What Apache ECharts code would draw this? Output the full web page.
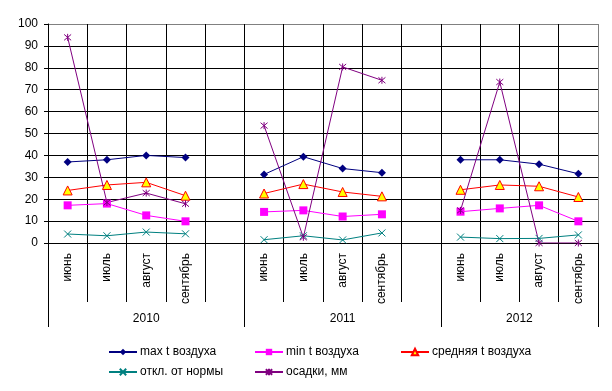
<!DOCTYPE html>
<html>
<head>
<meta charset="utf-8">
<script src="https://cdn.jsdelivr.net/npm/echarts@6/dist/echarts.min.js"></script>
<style>
html,body{margin:0;padding:0;background:#fff;}
#chart{width:612px;height:391px;}
</style>
</head>
<body>
<div id="chart"></div>
<script>
// ---- data ----
var months = ['июнь', 'июль', 'август', 'сентябрь'];
var years = ['2010', '2011', '2012'];
var seriesNames = ['max t воздуха', 'min t воздуха', 'средняя t воздуха', 'откл. от нормы', 'осадки, мм'];
var maxT   = [37, 38, 40, 39,   31.3, 39.4, 34, 32.1,   38, 38, 36, 31.6];
var minT   = [17.2, 18, 12.6, 9.9,   14.2, 14.9, 12.1, 13.1,   14.3, 15.8, 17.2, 9.9];
var avgT   = [24, 26.5, 27.7, 21.6,   22.6, 26.9, 23.3, 21.3,   24.3, 26.5, 25.9, 21];
var devT   = [4.1, 3.3, 5, 4.2,   1.5, 3.3, 1.4, 4.6,   2.7, 2, 2.1, 3.7];
var precip = [93.9, 18.5, 22.8, 17.9,   53.6, 2.6, 80.4, 74.3,   14.9, 73.5, 0, 0];
var yTicks = [0, 10, 20, 30, 40, 50, 60, 70, 80, 90, 100];

// ---- build categories with a blank slot between years ----
var categories = [];
var yearStart = [];
var yearCenter = [];
years.forEach(function (y, yi) {
  yearStart.push(categories.length);
  months.forEach(function (m) { categories.push(m); });
  var span = months.length + (yi < years.length - 1 ? 1 : 0);
  yearCenter.push(categories.length - months.length + span / 2);
  if (yi < years.length - 1) categories.push('');
});
var nCat = categories.length;
var yearTicks = yearStart.concat([nCat]);

function spread(arr) {
  var out = [];
  years.forEach(function (y, yi) {
    for (var i = 0; i < months.length; i++) out.push(arr[yi * months.length + i]);
    if (yi < years.length - 1) out.push(null);
  });
  return out;
}

var xMark = 'path://M0,0L10,10M10,0L0,10';
var starMark = 'path://M0,0L10,10M10,0L0,10M5,-1L5,11';

var splitColorsY = yTicks.map(function (v, i) { return i === yTicks.length - 1 ? '#808080' : '#000000'; });
var splitColorsX = [];
for (var i = 0; i <= nCat; i++) splitColorsX.push(i === nCat ? '#808080' : '#000000');

var chart = echarts.init(document.getElementById('chart'), null, {renderer: 'canvas'});
var font = 'Liberation Sans, Arial, sans-serif';

function legendAt(name, left, top) {
  return {
    data: [name], left: left, top: top, orient: 'horizontal',
    itemWidth: 28, itemHeight: 8, itemGap: 0, padding: 0,
    textStyle: {fontFamily: font, fontSize: 12, color: '#000', padding: [0, 0, 0, -2]},
    selectedMode: false
  };
}

chart.setOption({
  backgroundColor: '#ffffff',
  animation: false,
  grid: {left: 48, right: 14, top: 24, bottom: 148, show: false},
  legend: [
    legendAt(seriesNames[0], 108, 346),
    legendAt(seriesNames[1], 254, 346),
    legendAt(seriesNames[2], 400, 346),
    legendAt(seriesNames[3], 108, 366),
    legendAt(seriesNames[4], 254, 366)
  ],
  xAxis: [{
    type: 'category',
    data: categories,
    position: 'bottom',
    boundaryGap: true,
    axisLine: {show: true, lineStyle: {color: '#000', width: 1}},
    axisTick: {show: true, length: 59, interval: 0, lineStyle: {color: '#000'}},
    axisLabel: {rotate: 90, interval: 0, margin: 10, fontFamily: font, fontSize: 12, color: '#000'},
    splitLine: {show: true, interval: 0, lineStyle: {color: splitColorsX, width: 1}}
  }, {
    type: 'value',
    min: 0, max: nCat,
    position: 'bottom',
    axisLine: {show: false},
    splitLine: {show: false},
    axisTick: {show: true, length: 84, customValues: yearTicks, lineStyle: {color: '#000'}},
    axisLabel: {
      customValues: yearCenter, margin: 70, fontFamily: font, fontSize: 12, color: '#000',
      formatter: function (v) {
        for (var k = 0; k < yearCenter.length; k++) if (Math.abs(yearCenter[k] - v) < 1e-6) return years[k];
        return '';
      }
    }
  }],
  yAxis: {
    type: 'value',
    min: 0, max: 100, interval: 10,
    axisLine: {show: true, lineStyle: {color: '#000'}},
    axisTick: {show: true, length: 4, lineStyle: {color: '#000'}},
    axisLabel: {margin: 10, fontFamily: font, fontSize: 12, color: '#000'},
    splitLine: {show: true, lineStyle: {color: splitColorsY, width: 1}}
  },
  series: [{
    name: seriesNames[0], type: 'line', data: spread(maxT), connectNulls: false,
    symbol: 'diamond', symbolSize: 8,
    lineStyle: {color: '#000080', width: 1},
    itemStyle: {color: '#000080'}
  }, {
    name: seriesNames[1], type: 'line', data: spread(minT), connectNulls: false,
    symbol: 'rect', symbolSize: 8,
    lineStyle: {color: '#FF00FF', width: 1},
    itemStyle: {color: '#FF00FF'}
  }, {
    name: seriesNames[2], type: 'line', data: spread(avgT), connectNulls: false,
    symbol: 'triangle', symbolSize: 9,
    lineStyle: {color: '#FF0000', width: 1},
    itemStyle: {color: '#FFFF00', borderColor: '#FF0000', borderWidth: 1}
  }, {
    name: seriesNames[3], type: 'line', data: spread(devT), connectNulls: false,
    symbol: xMark, symbolSize: 7,
    lineStyle: {color: '#008080', width: 1},
    itemStyle: {color: '#008080', borderColor: '#008080', borderWidth: 1}
  }, {
    name: seriesNames[4], type: 'line', data: spread(precip), connectNulls: false,
    symbol: starMark, symbolSize: 7,
    lineStyle: {color: '#800080', width: 1},
    itemStyle: {color: '#800080', borderColor: '#800080', borderWidth: 1}
  }]
});
</script>
</body>
</html>
